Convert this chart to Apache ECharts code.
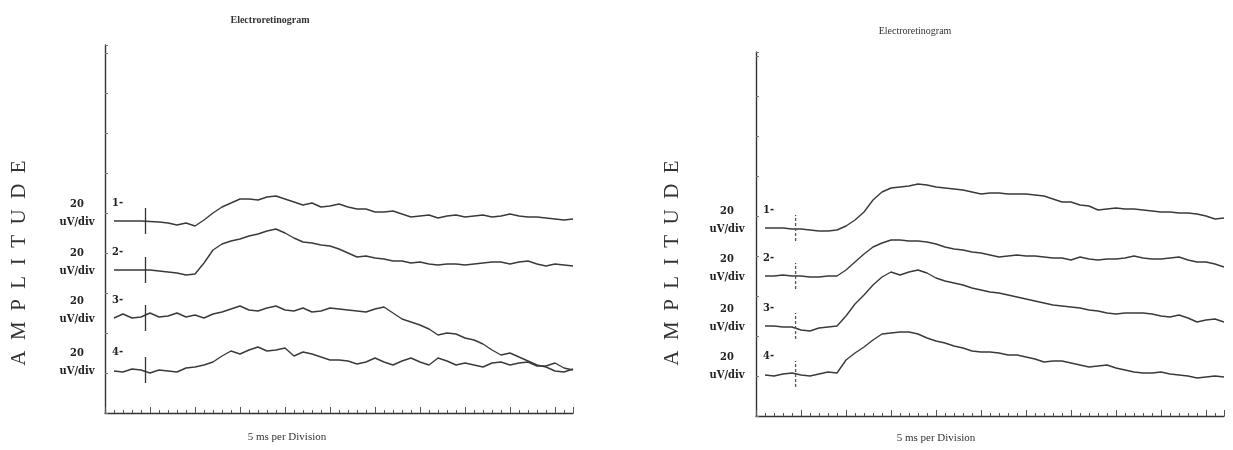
<!DOCTYPE html>
<html>
<head>
<meta charset="utf-8">
<script src="https://cdn.jsdelivr.net/npm/echarts@6/dist/echarts.min.js"></script>
<style>
html,body{margin:0;padding:0;background:#fff;}
#chart{width:1233px;height:450px;}
</style>
</head>
<body>
<div id="chart"></div>
<script>
// ---- data (time in divisions of 5 ms; amplitude in uV relative to each trace's baseline) ----
const chartTitle = 'Electroretinogram';
const yAxisTitle = 'A  M  P  L  I  T  U  D  E';
const xAxisTitle = '5 ms per Division';
const traceLabels = ['1-', '2-', '3-', '4-'];
const scaleTop = '20';
const scaleBottom = 'uV/div';

const timeDivs = [1,2,3,4,5,6,7,8,9,10,11,12,13,14,15,16,17,18,19,20,21,22,23,24,25,26,
                  27,28,29,30,31,32,33,34,35,36,37,38,39,40,41,42,43,44,45,46,47,48,49,50,51,52];

// baseline of each trace on the stacked display axis (uV)
const leftOffsets  = [96, 71.5, 47.5, 21.5];
const rightOffsets = [94, 70, 45, 21];
const leftStimulus = 4.5;
const rightStimulus = 4.4;

const left1 = [0,0,0,0,-0.25,-0.5,-1,-2,-1,-2.5,0.5,4,7,9,11,11,10.5,12,12.5,11,9.5,8,9,7,7.5,8.5,7,6,6,4.5,4.5,5,3.5,2,2.5,3,1.5,2.5,3,2,2.5,3,2,2.5,3.5,2.5,2,2,1.5,1,0.5,1];
const left2 = [0,0,0,0,0,-0.5,-1,-1.5,-2.5,-2,3.5,10,13,14.5,15.5,17,18,19.5,20.5,18.5,16,14,13.5,12.5,12,10.5,8.5,6.5,7,6,5.5,4.5,4.5,3.5,4,3,2.5,3,3,2.5,3,3.5,4,4,3,4,4.5,3,2,3,2.5,2];
const left3 = [0,2,0,0.5,2.5,0.5,1,2.5,0.5,1.5,0,2,3,4.5,6,4,3.5,5,6,4,3.5,5,3,3.5,5,4.5,4,3.5,3,4.5,5.5,2.5,-0.5,-2,-3.5,-5.5,-8.5,-7.5,-8,-10,-11,-13,-16,-18.5,-17.5,-19.5,-21.5,-23.5,-24.5,-26.5,-27,-25.5];
const left4 = [-0.5,-1,0.5,0,-1.5,0,-0.5,-1,1,1.5,2.5,4,7,9.5,8,10,11.5,9.5,10,11,7,9,8,6.5,5,5,4.5,3,4,6,4,2.5,4.5,6,4,2.5,6,4.5,2.5,3.5,2.5,1.5,3.5,4,2.5,3.5,4,2,2,3.5,1,0];

const right1 = [0,0,0,-0.5,-0.5,-1,-1.5,-1.5,-1,1,4,8,14,18,20,20.5,21,22,21.5,20.5,20,19.5,19,18,17,17.5,17.5,17,17,17,16.5,16,14.5,13,13,11.5,11,9,9.5,10,9.5,9.5,9,8.5,8,8,7.5,7.5,7,6,4.5,5];
const right2 = [0,0,0.5,0,0,-0.5,-0.5,0,0,3,7,11,14.5,16.5,18,18,17.5,17.5,17,16,14.5,13.5,13,12,11.5,10.5,9.5,10,10.5,10,10,9.5,9,9,8,9.5,8.5,8,8.5,8.5,9,10,9,8.5,8.5,9,9.5,8,7,7,6,4.5];
const right3 = [0,0,-0.5,-0.5,-2,-2.5,-1,-0.5,0,5,11,15.5,20.5,24.5,27,25.5,27,28,26.5,24,22.5,21.5,20.5,19,18,17,16.5,15.5,14.5,13.5,12.5,11.5,10.5,10,9.5,9,8,7.5,6.5,6,6.5,6.5,6.5,6,5,4.5,5.5,4,2,3,3.5,2];
const right4 = [-0.5,-1,0,0.5,-0.5,-1,0,1,0.5,7,10.5,13.5,17,20,20.5,21,21,20,18,16.5,15.5,14,13,11.5,11,11,10.5,9.5,9.5,8.5,7.5,6,6.5,6.5,5.5,4.5,3.5,4,4.5,3,2,1,0.5,0.5,1,0,-0.5,-1,-2,-1.5,-1,-1.5];

const leftTraces = [left1, left2, left3, left4];
const rightTraces = [right1, right2, right3, right4];

// ---- chart ----
const chart = echarts.init(document.getElementById('chart'), null, {renderer: 'canvas'});
const ink = '#333333';
const serif = '"Liberation Serif", "DejaVu Serif", serif';
const cond = '"DejaVu Serif Condensed", "Liberation Serif", serif';

const grids = [
  {left: 105, top: 45, width: 468, height: 368},
  {left: 756, top: 52, width: 468, height: 364}
];
const yMax = [184, 182];

const xAxes = [], yAxes = [];
[0, 1].forEach(g => {
  xAxes.push({
    type: 'value', gridIndex: g, min: 0, max: 52, interval: 1,
    axisLine: {show: true, onZero: false, lineStyle: {color: ink, width: 1.4}},
    axisTick: {show: true, inside: true, length: 3, lineStyle: {color: '#555', width: 1}},
    axisLabel: {show: false}, splitLine: {show: false}
  });
  xAxes.push({
    type: 'value', gridIndex: g, min: 0, max: 52, interval: 5, position: 'bottom',
    axisLine: {show: false},
    axisTick: {show: true, inside: true, length: 6, lineStyle: {color: '#555', width: 1}},
    axisLabel: {show: false}, splitLine: {show: false}
  });
  yAxes.push({
    type: 'value', gridIndex: g, min: 0, max: yMax[g], interval: 20,
    axisLine: {show: true, onZero: false, lineStyle: {color: ink, width: 1.4}},
    axisTick: {show: true, inside: true, length: 3, lineStyle: {color: '#777', width: 1}},
    axisLabel: {show: false}, splitLine: {show: false}
  });
});

const series = [];
const panels = [
  {traces: leftTraces, offsets: leftOffsets, stim: leftStimulus, xi: 0, yi: 0, dash: 'solid', stimColor: ink},
  {traces: rightTraces, offsets: rightOffsets, stim: rightStimulus, xi: 2, yi: 1, dash: [3, 2], stimColor: '#555'}
];
panels.forEach(p => {
  p.traces.forEach((tr, k) => {
    series.push({
      type: 'line', xAxisIndex: p.xi, yAxisIndex: p.yi, symbol: 'none', silent: true,
      clip: false,
      lineStyle: {color: '#3a3a3a', width: 1.4},
      data: timeDivs.map((t, i) => [t, p.offsets[k] + tr[i]])
    });
    series.push({
      type: 'line', xAxisIndex: p.xi, yAxisIndex: p.yi, symbol: 'none', silent: true,
      lineStyle: {color: p.stimColor, width: 1.3, type: p.dash},
      data: [[p.stim, p.offsets[k] - 6.5], [p.stim, p.offsets[k] + 6.5]]
    });
  });
});

chart.setOption({
  animation: false,
  backgroundColor: '#ffffff',
  title: [
    {text: chartTitle, left: 265, top: 10, textAlign: 'center',
     textStyle: {fontFamily: serif, fontSize: 10, fontWeight: 'bold', color: '#333'}},
    {text: chartTitle, left: 910, top: 21, textAlign: 'center',
     textStyle: {fontFamily: serif, fontSize: 10, fontWeight: 'normal', color: '#333'}}
  ],
  grid: grids,
  xAxis: xAxes,
  yAxis: yAxes,
  series: series
});

// text labels placed from the data coordinates
const graphics = [];
[
  {panel: panels[0], gi: 0, titleX: 19, titleY: 263, xTitleX: 287, xTitleY: 437, scaleX: 77, labelX: 112},
  {panel: panels[1], gi: 1, titleX: 672, titleY: 263, xTitleX: 936, xTitleY: 438, scaleX: 727, labelX: 763}
].forEach(d => {
  graphics.push({type: 'text', x: d.titleX, y: d.titleY, rotation: Math.PI / 2,
    style: {text: yAxisTitle, font: '21px ' + serif, fill: '#333', align: 'center', verticalAlign: 'middle'}});
  graphics.push({type: 'text', x: d.xTitleX, y: d.xTitleY,
    style: {text: xAxisTitle, font: '11px ' + serif, fill: '#333', align: 'center', verticalAlign: 'middle'}});
  d.panel.offsets.forEach((off, k) => {
    const py = chart.convertToPixel({gridIndex: d.gi}, [0, off])[1];
    graphics.push({type: 'text', x: d.scaleX, y: py - 17,
      style: {text: scaleTop, font: 'bold 11px ' + cond, fill: '#222', align: 'center', verticalAlign: 'middle'}});
    graphics.push({type: 'text', x: d.scaleX, y: py + 1,
      style: {text: scaleBottom, font: 'bold 11px ' + cond, fill: '#222', align: 'center', verticalAlign: 'middle'}});
    graphics.push({type: 'text', x: d.labelX, y: py - 18,
      style: {text: traceLabels[k], font: 'bold 11px ' + cond, fill: '#222', align: 'left', verticalAlign: 'middle'}});
  });
});
chart.setOption({graphic: graphics});
</script>
</body>
</html>
